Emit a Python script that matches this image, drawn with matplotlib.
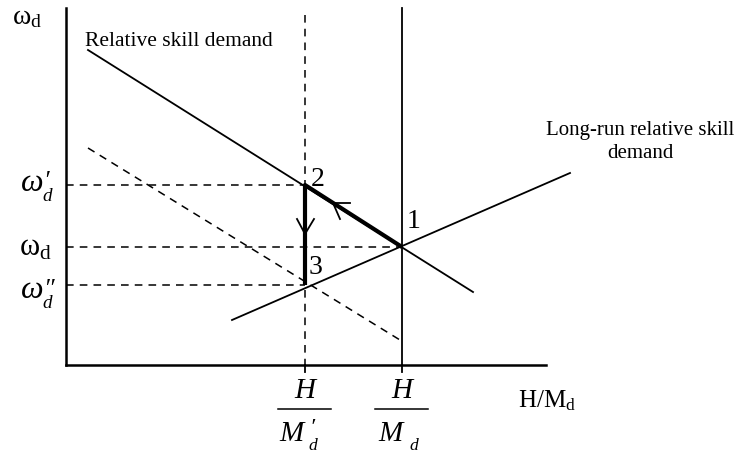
import matplotlib
matplotlib.use("Agg")
import matplotlib.pyplot as plt

plt.rcParams['font.family'] = ['Liberation Serif', 'DejaVu Serif']
plt.rcParams['mathtext.fontset'] = 'custom'
plt.rcParams['mathtext.rm'] = 'Liberation Serif'
plt.rcParams['mathtext.it'] = 'Liberation Serif:italic'

# ----------------------------------
# DATA (diagram units, y grows downwards like the picture)
# ----------------------------------
axis_origin = (66, 365)
y_axis_top = 8
x_axis_right = 546

demand_x = [88, 473]
demand_y = [50, 292]
shifted_demand_x = [88, 400]
shifted_demand_y = [148, 340]
longrun_x = [232, 570]
longrun_y = [320, 173]

x_short = 305          # H / M'_d
x_long = 402           # H / M_d
y_levels = [185, 247, 285]     # w'_d, w_d, w''_d
y_level_ends = [x_short, x_long, x_short]

path_x = [x_long, x_short, x_short]
path_y = [247, 185, 285]

point_labels = ["1", "2", "3"]
point_x = [407, 311, 309]
point_y = [222, 179, 268]


def italic_with_marks(x, baseline, base, base_fs, prime, prime_top, sub, gap=0):
    """base letter in italics, prime above and subscript d below, stacked"""
    t = ax.text(x, baseline, base, fontsize=base_fs, style='italic',
                ha='left', va='baseline')
    fig.canvas.draw()
    bb = t.get_window_extent().transformed(ax.transData.inverted())
    right = bb.x1 + gap
    if prime:
        ax.text(right, prime_top, prime, fontsize=base_fs * 0.8,
                style='italic', ha='left', va='top')
    ax.text(right - 1, baseline + base_fs * 0.45, sub, fontsize=base_fs * 0.6,
            style='italic', ha='left', va='baseline')


# ----------------------------------
# FIGURE
# ----------------------------------
fig = plt.figure(figsize=(7.38, 4.57), dpi=100)
ax = fig.add_axes([0, 0, 1, 1])
ax.set_xlim(0, 738)
ax.set_ylim(457, 0)
ax.axis('off')

ox, oy = axis_origin
ax.plot([ox, ox], [y_axis_top, oy], color='black', lw=1.8)
ax.plot([ox, x_axis_right], [oy, oy], color='black', lw=1.8)
for xt in (x_short, x_long):
    ax.plot([xt, xt], [oy, oy + 7], color='black', lw=1.3)

# curves
ax.plot(demand_x, demand_y, color='black', lw=1.3)
ax.plot(shifted_demand_x, shifted_demand_y, color='black', lw=1.1, ls=(0, (5, 4)))
ax.plot(longrun_x, longrun_y, color='black', lw=1.3)
ax.plot([x_long, x_long], [y_axis_top, oy], color='black', lw=1.3)
ax.plot([x_short, x_short], [15, oy], color='black', lw=1.1, ls=(0, (5, 4)))

# horizontal guides
for yv, xe in zip(y_levels, y_level_ends):
    ax.plot([ox, xe], [yv, yv], color='black', lw=1.1, ls=(0, (5, 4)))

# adjustment path
ax.plot(path_x, path_y, color='black', lw=3, solid_capstyle='butt')

# open arrow heads
ax.plot([350, 333, 340], [203, 203, 219], color='black', lw=1.3)
ax.plot([297, 305, 314], [219, 234, 219], color='black', lw=1.3)

# labels
for lab, px, py in zip(point_labels, point_x, point_y):
    ax.text(px, py, lab, fontsize=20, ha='left', va='center')

# y-axis level labels
italic_with_marks(21, 191, "\u03c9", 23, "\u2032", 171, "d")
ax.text(52, 248, r"$\mathrm{\omega_d}$", fontsize=22, ha='right', va='center')
italic_with_marks(21, 298, "\u03c9", 23, "\u2033", 279, "d")

ax.text(12, 18, r"$\mathrm{\omega_d}$", fontsize=20, ha='left', va='center')
ax.text(85, 41, "Relative skill demand", fontsize=15.5, ha='left', va='center')
ax.text(640, 142, "Long-run relative skill\ndemand", fontsize=15,
        ha='center', va='center', linespacing=1.3)
ax.text(518, 401, r"$\mathrm{H/M_d}$", fontsize=18, ha='left', va='center')

# fraction tick labels
for xf in (x_short, x_long):
    ax.text(xf, 398, "H", fontsize=21, style='italic', ha='center', va='baseline')
    ax.plot([xf - 27, xf + 26], [409, 409], color='black', lw=1.1)
italic_with_marks(x_short - 26, 441, "M", 21, "\u2032", 418, "d", gap=6)
italic_with_marks(x_long - 24, 441, "M", 21, "", 418, "d", gap=8)

plt.savefig("out.png", dpi=100)
